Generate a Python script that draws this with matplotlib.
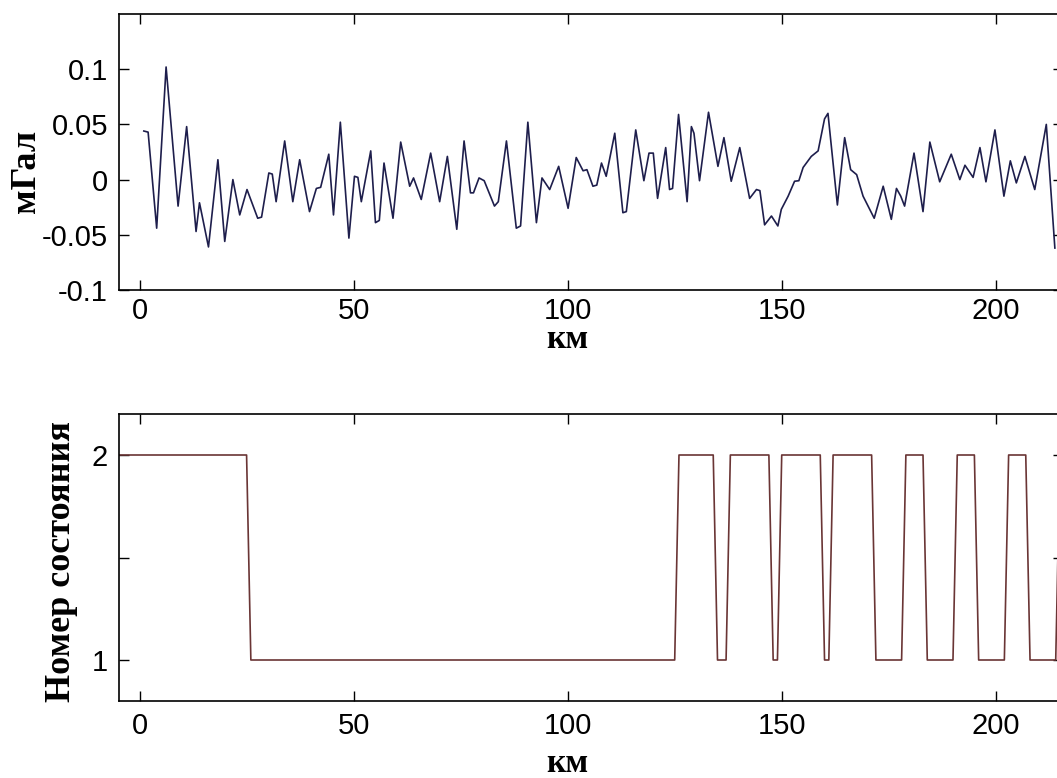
import matplotlib
matplotlib.use('Agg')
import matplotlib.pyplot as plt

# anomaly profile, mGal vs km
km = [1, 2, 4, 6.2, 9, 11, 13.2, 14, 16.1, 18.3, 19.9, 21.8, 23.4, 25.1, 27.6, 28.5,
      30.2, 31, 31.9, 33.9, 35.8, 37.4, 39.7, 41.3, 42.3, 44.2, 45.3, 46.9, 48.9,
      50.2, 51, 51.8, 54, 55.1, 56, 57.1, 59.2, 61, 63.1, 64, 65.8, 68, 70.1, 71.9,
      74.1, 75.8, 77.3, 78, 79.3, 80.5, 82.9, 83.8, 85.7, 88, 89, 90.7, 92.7, 94,
      95.8, 97.9, 100.1, 102, 103.6, 104.5, 105.9, 106.8, 107.9, 109, 111, 112.9,
      113.7, 115.9, 117.8, 119, 120, 121, 122.9, 123.8, 124.5, 125.9, 127.9, 128.9,
      129.5, 130.8, 132.9, 135.1, 136.5, 138.2, 140.2, 142.5, 144.1, 144.9, 146,
      147.6, 149.1, 149.9, 151.5, 153, 154, 155, 156.9, 158.5, 160, 160.8, 163,
      164.7, 166.1, 167.5, 169, 171.6, 173.7, 175.6, 176.8, 177.8, 178.7, 180.9,
      183, 184.6, 186.9, 189.6, 191.6, 192.8, 194.7, 196.3, 197.7, 199.8, 201.9,
      203.4, 204.8, 206.8, 209.1, 211.8, 213.8]
mgal = [0.044, 0.043, -0.044, 0.102, -0.024, 0.048, -0.047, -0.021, -0.061, 0.018,
        -0.056, 0.0, -0.032, -0.009, -0.035, -0.034, 0.006, 0.005, -0.02, 0.035,
        -0.02, 0.018, -0.029, -0.008, -0.007, 0.023, -0.032, 0.052, -0.053, 0.003,
        0.002, -0.02, 0.026, -0.039, -0.037, 0.015, -0.035, 0.034, -0.006, 0.0015,
        -0.018, 0.024, -0.02, 0.021, -0.045, 0.035, -0.012, -0.012, 0.0015, -0.001,
        -0.024, -0.02, 0.035, -0.044, -0.042, 0.052, -0.039, 0.0015, -0.009, 0.012,
        -0.026, 0.02, 0.008, 0.009, -0.006, -0.005, 0.015, 0.003, 0.042, -0.03,
        -0.029, 0.045, -0.001, 0.024, 0.024, -0.017, 0.029, -0.009, -0.008, 0.059,
        -0.02, 0.048, 0.042, -0.001, 0.061, 0.012, 0.038, -0.0015, 0.029, -0.017,
        -0.009, -0.01, -0.041, -0.033, -0.042, -0.027, -0.015, -0.0015, -0.001,
        0.011, 0.021, 0.026, 0.055, 0.06, -0.023, 0.038, 0.009, 0.0045, -0.015,
        -0.035, -0.006, -0.036, -0.008, -0.015, -0.024, 0.024, -0.029, 0.034,
        -0.002, 0.023, 0.0, 0.013, 0.002, 0.029, -0.002, 0.045, -0.015, 0.017,
        -0.003, 0.021, -0.009, 0.05, -0.062]

# state number (vertices of the state trace)
state_km = [-5, 25, 26, 125, 126, 134, 135, 137, 138, 147, 148, 149, 150, 159, 160,
            161, 162, 171, 172, 178, 179, 183, 184, 190, 191, 195, 196, 202, 203,
            207, 208, 214, 215]
state = [2, 2, 1, 1, 2, 2, 1, 1, 2, 2, 1, 1, 2, 2, 1, 1, 2, 2, 1, 1, 2, 2, 1, 1, 2,
         2, 1, 1, 2, 2, 1, 1, 2]

xticks = [0, 50, 100, 150, 200]
xticklabels = ['0', '50', '100', '150', '200']
top_yticks = [-0.1, -0.05, 0, 0.05, 0.1]
top_yticklabels = ['-0.1', '-0.05', '0', '0.05', '0.1']

tick_font = {'family': 'Liberation Sans', 'size': 21}
label_font = {'family': 'Liberation Serif', 'size': 26, 'weight': 'bold'}
km_font = {'family': 'Liberation Serif', 'size': 24, 'weight': 'bold'}

fig = plt.figure(figsize=(10.57, 7.78), dpi=100)
W, H = 1057.0, 778.0
L, R = 119.0, 1063.0
ax1 = fig.add_axes([L / W, 1 - 290 / H, (R - L) / W, (290 - 14) / H])
ax2 = fig.add_axes([L / W, 1 - 701 / H, (R - L) / W, (701 - 414) / H])

ax1.plot(km, mgal, color='#1e1e4c', lw=1.2)
ax1.set_ylim(-0.1, 0.15)
ax1.set_yticks(top_yticks)
ax1.set_yticklabels(top_yticklabels, fontdict=tick_font)
ax1.set_ylabel('мГал', fontdict=label_font)
ax1.yaxis.label.set_va('center')
ax1.yaxis.set_label_coords((26 - L) / (R - L), (290 - 171) / 276.0)

ax2.plot(state_km, state, color='#6a3535', lw=1.2)
ax2.set_ylim(0.8, 2.2)
ax2.set_yticks([1, 1.5, 2])
ax2.set_yticklabels(['1', '', '2'], fontdict=tick_font)
ax2.set_ylabel('Номер состояния', fontdict=label_font)
ax2.yaxis.label.set_va('center')
ax2.yaxis.set_label_coords((61 - L) / (R - L), (701 - 561.5) / 287.0)

# km label baselines (pixels from top)
for ax, bot, base_y, pad in ((ax1, 290.0, 348.0, 5), (ax2, 701.0, 772.0, 8)):
    ax.set_xlim(-4.8, 215.7)
    ax.set_xticks(xticks)
    ax.set_xticklabels(xticklabels, fontdict=tick_font)
    ax.set_xlabel('км', fontdict=km_font)
    ax.xaxis.label.set_va('baseline')
    h = ax.get_position().height * H
    ax.xaxis.set_label_coords((567 - L) / (R - L), -(base_y - bot) / h)
    ax.tick_params(direction='in', length=7, width=1, top=True, right=True)
    ax.tick_params(axis='x', pad=pad)
    ax.tick_params(axis='y', pad=8)
    for s in ax.spines.values():
        s.set_linewidth(1.2)

fig.savefig('out.png', dpi=100)
